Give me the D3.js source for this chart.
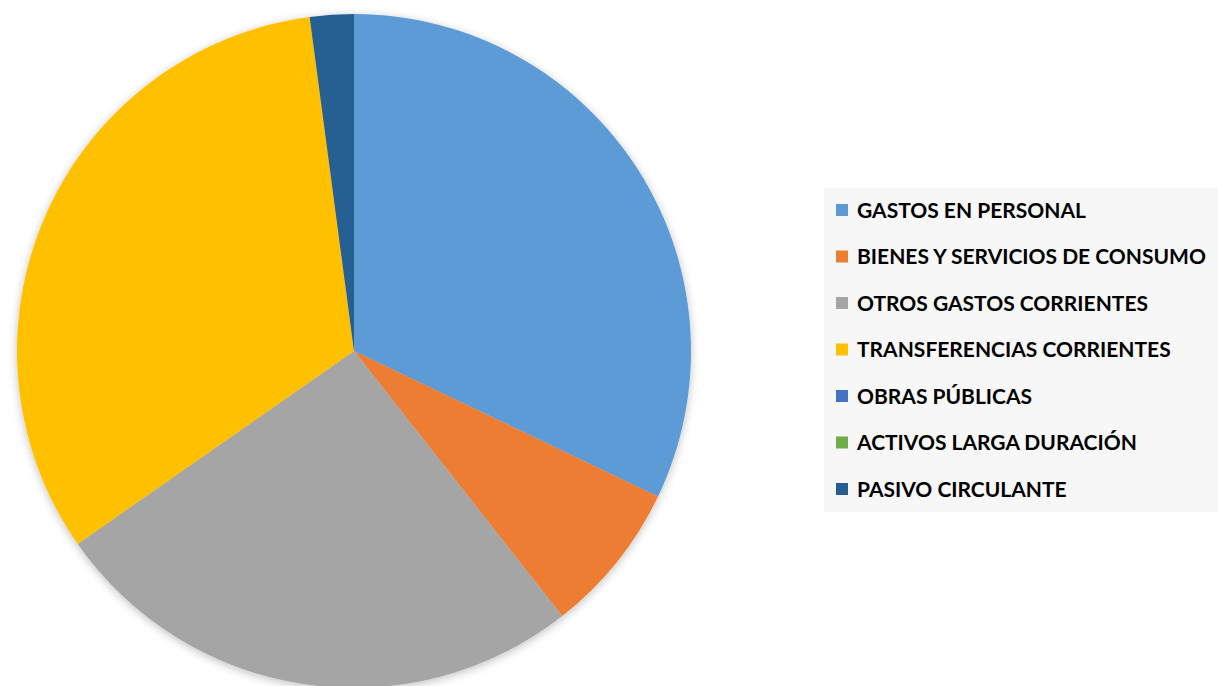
<!DOCTYPE html>
<html><head><meta charset="utf-8">
<script src="https://cdn.jsdelivr.net/npm/d3@7"></script>
<style>html,body{margin:0;padding:0;background:#fff;}svg{display:block;}</style>
</head><body>
<svg id="chart" width="1218" height="686"></svg>
<script>
const categories = ["GASTOS EN PERSONAL","BIENES Y SERVICIOS DE CONSUMO","OTROS GASTOS CORRIENTES","TRANSFERENCIAS CORRIENTES","OBRAS PÚBLICAS","ACTIVOS LARGA DURACIÓN","PASIVO CIRCULANTE"];
const values = [32.1, 7.3, 25.9, 32.6, 0, 0, 2.1];
const colors = ["#5B9BD5","#ED7D31","#A5A5A5","#FFC000","#4472C4","#70AD47","#255E91"];

const svg = d3.select("#chart");
const defs = svg.append("defs");
const f = defs.append("filter").attr("id","sh").attr("x","-10%").attr("y","-10%").attr("width","120%").attr("height","120%");
f.append("feGaussianBlur").attr("in","SourceAlpha").attr("stdDeviation",5).attr("result","b");
f.append("feOffset").attr("in","b").attr("dx",0).attr("dy",2).attr("result","o");
f.append("feComponentTransfer").attr("in","o").attr("result","o2").append("feFuncA").attr("type","linear").attr("slope",0.25);
const m = f.append("feMerge"); m.append("feMergeNode").attr("in","o2"); m.append("feMergeNode").attr("in","SourceGraphic");

const cx = 354, cy = 351, r = 337;
const data = categories.map((c,i)=>({name:c, value:values[i], color:colors[i]}));
const pie = d3.pie().value(d=>d.value).sort(null);
const arc = d3.arc().innerRadius(0).outerRadius(r);
const g = svg.append("g").attr("transform",`translate(${cx},${cy})`).attr("filter","url(#sh)");
g.selectAll("path").data(pie(data).filter(d=>d.data.value>0)).join("path")
  .attr("d",arc).attr("fill",d=>d.data.color);

// legend
const lg = svg.append("g");
lg.append("rect").attr("x",824).attr("y",188).attr("width",394).attr("height",324).attr("fill","#f7f7f7");
const ly = d3.scalePoint().domain(categories).range([210,489]);
const items = lg.selectAll("g.item").data(data).join("g").attr("class","item")
  .attr("transform",d=>`translate(836,${ly(d.name)})`);
items.append("rect").attr("x",0).attr("y",-6).attr("width",12).attr("height",12).attr("fill",d=>d.color);
items.append("text").attr("x",21).attr("y",0).attr("dy","0.36em")
  .attr("font-family","Lato, 'Open Sans', sans-serif").attr("font-weight","bold").attr("font-size",21)
  .attr("fill","#000").text(d=>d.name);
</script>
</body></html>
